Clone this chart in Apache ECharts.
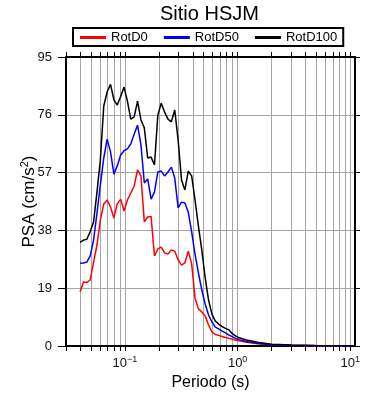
<!DOCTYPE html>
<html>
<head>
<meta charset="utf-8">
<script src="https://cdn.jsdelivr.net/npm/echarts@6/dist/echarts.min.js"></script>
<style>
  html, body { margin: 0; padding: 0; background: #fff; }
  #chart { width: 390px; height: 400px; }
</style>
</head>
<body>
<div id="chart"></div>
<script>
// periodos (s)
const periods = [0.0400, 0.0429, 0.0459, 0.0492, 0.0527, 0.0565, 0.0605, 0.0649, 0.0695, 0.0745,
  0.0798, 0.0855, 0.0916, 0.0982, 0.1052, 0.1127, 0.1208, 0.1294, 0.1387, 0.1486,
  0.1592, 0.1706, 0.1828, 0.1959, 0.2099, 0.2249, 0.2410, 0.2582, 0.2767, 0.2965,
  0.3177, 0.3404, 0.3648, 0.3909, 0.4188, 0.4488, 0.4809, 0.5153, 0.5521, 0.5916,
  0.6339, 0.6793, 0.7279, 0.7800, 0.8358, 0.8955, 0.9596, 1.028,
  1.2, 1.5, 2.0, 3.0, 5.0, 10.0];

const rotD0 = [17.8, 21.0, 20.9, 21.7, 27.6, 33.2, 41.4, 46.7, 48.0, 45.7,
  42.1, 46.8, 48.2, 44.4, 48.0, 50.3, 52.6, 57.9, 55.9, 40.8,
  42.4, 42.6, 29.6, 31.9, 32.5, 30.6, 30.2, 31.6, 31.2, 28.3,
  26.6, 27.3, 31.2, 27.0, 15.8, 12.2, 11.2, 9.9, 6.9, 4.6,
  3.8, 3.5, 3.1, 2.8, 2.5, 2.2, 2.0, 1.7,
  1.25, 0.7, 0.4, 0.2, 0.08, 0.03];

const rotD50 = [27.2, 27.3, 27.6, 29.6, 34.8, 43.7, 52.9, 61.8, 68.0, 63.8,
  56.5, 59.2, 62.8, 64.2, 64.8, 66.4, 69.7, 72.6, 66.1, 53.6,
  54.9, 48.3, 50.6, 57.2, 57.5, 55.9, 57.2, 58.8, 55.2, 45.4,
  47.3, 47.0, 44.0, 37.5, 30.2, 24.0, 18.4, 13.8, 10.2, 7.9,
  6.2, 5.6, 4.9, 4.3, 3.6, 3.1, 2.5, 2.1,
  1.5, 0.9, 0.45, 0.23, 0.1, 0.04];

const rotD100 = [34.1, 34.8, 35.1, 37.6, 40.8, 50.6, 61.1, 78.9, 83.5, 86.0,
  80.9, 79.2, 82.0, 85.1, 80.5, 74.6, 75.3, 80.5, 74.3, 71.7,
  61.8, 62.1, 59.5, 75.9, 79.8, 76.9, 74.6, 73.7, 77.6, 67.7,
  54.6, 51.3, 57.5, 55.9, 48.0, 39.4, 31.6, 22.4, 15.1, 10.5,
  8.2, 7.2, 6.4, 5.8, 5.3, 4.1, 3.3, 2.7,
  2.0, 1.2, 0.6, 0.33, 0.13, 0.06];

// lineas de la grilla logaritmica y etiquetas 10^n
const gridTicks = [0.03, 0.04, 0.05, 0.06, 0.07, 0.08, 0.09,
  0.1, 0.2, 0.3, 0.4, 0.5, 0.6, 0.7, 0.8, 0.9,
  1, 2, 3, 4, 5, 6, 7, 8, 9, 10];
const labelExps = [-1, 0, 1];

const xMin = Math.log10(0.03);
const xMax = Math.log10(11);
const font = 'Liberation Sans, Arial, sans-serif';

const toXY = vals => periods.map((t, i) => [Math.log10(t), vals[i]]);
const tickVals = gridTicks.map(t => Math.log10(t));

const chart = echarts.init(document.getElementById('chart'));

chart.setOption({
  animation: false,
  textStyle: { fontFamily: font },
  title: {
    text: 'Sitio HSJM',
    left: 160,
    top: 0,
    padding: [4, 0, 0, 0],
    textStyle: { fontSize: 20, fontWeight: 'normal', color: '#000', fontFamily: font }
  },
  legend: {
    left: 73,
    top: 28,
    padding: [3, 6, 2, 7],
    borderColor: '#000',
    borderWidth: 2,
    icon: 'rect',
    itemWidth: 26,
    itemHeight: 3,
    itemGap: 16,
    textStyle: { fontSize: 13, color: '#000', fontFamily: font },
    data: ['RotD0', 'RotD50', 'RotD100']
  },
  grid: { left: 66, right: 35, top: 57, bottom: 54 },
  xAxis: [{
    type: 'value',
    position: 'bottom',
    min: xMin,
    max: xMax,
    axisLine: { onZero: false, lineStyle: { color: '#000', width: 2 } },
    axisTick: { length: 5, customValues: tickVals, lineStyle: { color: '#000' } },
    axisLabel: {
      customValues: labelExps,
      margin: 9,
      formatter: v => '{a|10}{b|' + String(Math.round(v)).replace('-', '\u2212') + '}',
      rich: {
        a: { fontSize: 13, color: '#111', fontFamily: font },
        b: { fontSize: 9, color: '#111', fontFamily: font, padding: [0, 0, 7, 0] }
      }
    },
    splitLine: { show: true, lineStyle: { color: '#a6a6a6', width: 1 } },
    name: 'Periodo (s)',
    nameLocation: 'middle',
    nameGap: 29,
    nameMoveOverlap: false,
    nameTextStyle: { fontSize: 16, color: '#000', fontFamily: font }
  }, {
    type: 'value',
    position: 'top',
    min: xMin,
    max: xMax,
    axisLine: { onZero: false, lineStyle: { color: '#000', width: 2 } },
    axisTick: { length: 5, customValues: tickVals, lineStyle: { color: '#000' } },
    axisLabel: { show: false },
    splitLine: { show: false }
  }],
  yAxis: [{
    type: 'value',
    min: 0,
    max: 95,
    interval: 19,
    axisLine: { show: true, onZero: false, lineStyle: { color: '#000', width: 2 } },
    axisTick: { show: true, length: 8, lineStyle: { color: '#000' } },
    axisLabel: { margin: 14, fontSize: 13, color: '#111', fontFamily: font },
    splitLine: { show: true, lineStyle: { color: '#a6a6a6', width: 1 } },
    name: '{a|PSA (cm/s}{b|2}{a|)}',
    nameLocation: 'middle',
    nameGap: 27,
    nameMoveOverlap: false,
    nameTextStyle: {
      fontSize: 17, color: '#000', fontFamily: font,
      rich: {
        a: { fontSize: 17, color: '#000', fontFamily: font },
        b: { fontSize: 11, color: '#000', fontFamily: font, padding: [0, 0, 9, 0] }
      }
    }
  }, {
    type: 'value',
    position: 'right',
    min: 0,
    max: 95,
    interval: 19,
    axisLine: { show: true, onZero: false, lineStyle: { color: '#000', width: 2 } },
    axisTick: { show: true, length: 5, lineStyle: { color: '#000' } },
    axisLabel: { show: false },
    splitLine: { show: false }
  }],
  series: [
    { name: 'RotD0', type: 'line', data: toXY(rotD0), symbol: 'none', color: '#ff0000', lineStyle: { width: 1.5 } },
    { name: 'RotD50', type: 'line', data: toXY(rotD50), symbol: 'none', color: '#0000ff', lineStyle: { width: 1.5 } },
    { name: 'RotD100', type: 'line', data: toXY(rotD100), symbol: 'none', color: '#000000', lineStyle: { width: 1.5 } }
  ]
});
</script>
</body>
</html>
